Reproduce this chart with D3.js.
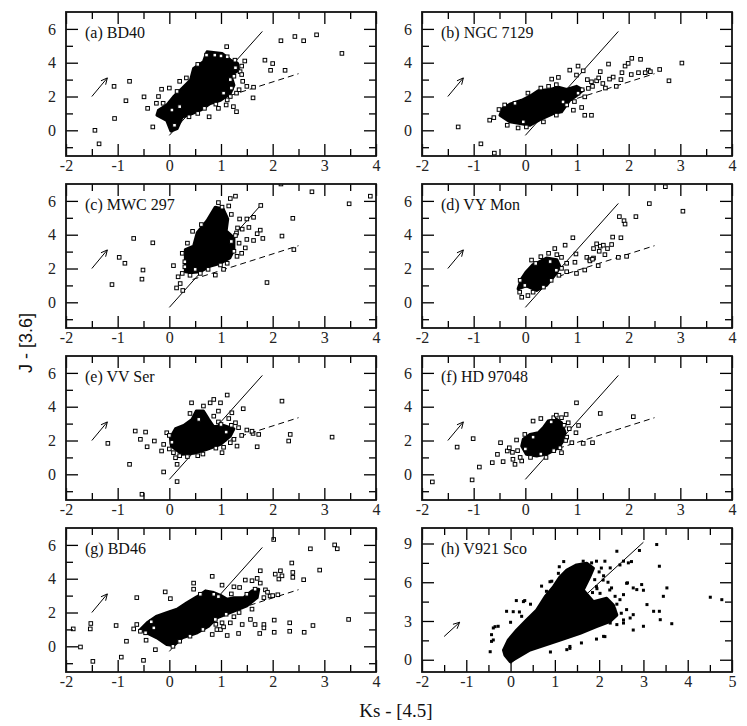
<!DOCTYPE html>
<html>
<head>
<meta charset="utf-8">
<script src="https://cdn.jsdelivr.net/npm/d3@7"></script>
<style>
  body { margin: 0; background: #fff; }
</style>
</head>
<body>
<svg id="chart" width="747" height="726"></svg>
<script>
/*
Panel titles, in reading order */
var panelNames = ['(a) BD40', '(b) NGC 7129', '(c) MWC 297', '(d) VY Mon',
                  '(e) VV Ser', '(f) HD 97048', '(g) BD46', '(h) V921 Sco'];

/*
Outline of the dense (saturated) part of each cloud, [Ks-[4.5], J-[3.6]] */
var coreA = [[-0.24,0.89],[-0.05,0.59],[0.03,-0.04],[0.15,0.1],[0.25,0.79],[0.44,0.99],[0.6,1.19],
             [0.79,1.58],[0.99,1.78],[1.18,2.18],[1.25,2.67],[1.19,3.27],[1.34,3.56],[1.32,3.96],
             [1.18,4.16],[1.02,4.55],[0.73,4.65],[0.66,4.06],[0.47,3.66],[0.41,2.97],[0.25,2.48],
             [0.08,1.98],[-0.05,1.49],[-0.21,1.19]];
var coreB = [[-0.49,0.89],[-0.3,0.5],[0.09,0.3],[0.28,0.63],[0.54,0.99],[0.7,1.09],[0.86,1.78],
             [0.96,1.98],[1.12,2.38],[0.99,2.6],[0.8,2.42],[0.64,2.55],[0.48,2.42],[0.25,2.34],
             [0.09,2.02],[-0.07,1.78],[-0.3,1.54],[-0.44,1.29]];
var coreC = [[0.31,1.81],[0.31,3.12],[0.47,3.32],[0.54,4.12],[0.73,4.83],[0.89,5.63],[1.04,5.53],
             [1.13,4.93],[1.1,4.23],[1.25,3.82],[1.25,3.12],[1.17,2.62],[0.99,2.31],[0.76,2.11],
             [0.6,1.81],[0.44,1.77]];
var coreD = [[-0.14,0.8],[0.02,0.97],[0.22,0.7],[0.41,1.01],[0.57,1.61],[0.67,2.11],[0.61,2.52],
             [0.41,2.62],[0.25,2.37],[0.14,2.21],[0.02,1.81],[-0.07,1.41]];
var coreE = [[0.04,1.67],[0.25,1.18],[0.47,1.24],[0.73,1.48],[0.99,1.77],[1.18,2.26],[1.25,2.69],
             [1.05,2.89],[0.86,2.81],[0.76,3.25],[0.66,3.74],[0.52,3.74],[0.44,3.25],[0.28,2.89],
             [0.12,2.7],[0.02,2.17]];
var coreF = [[-0.07,1.67],[0.02,1.18],[0.22,1.08],[0.44,1.24],[0.64,1.57],[0.73,1.97],[0.77,2.46],
             [0.7,3.05],[0.61,3.25],[0.44,3.15],[0.35,2.76],[0.25,2.46],[0.09,2.36],[-0.04,2.07]];
var coreG = [[-0.56,0.99],[-0.24,0.5],[-0.05,0.1],[0.08,0.04],[0.25,0.5],[0.54,0.8],[0.76,1.19],
             [0.92,1.69],[1.25,2.09],[1.5,2.39],[1.7,2.88],[1.73,3.38],[1.6,3.28],[1.44,2.88],
             [1.25,2.88],[1.12,2.78],[0.99,3.02],[0.86,3.18],[0.7,3.28],[0.54,2.94],[0.34,2.58],
             [0.15,2.19],[-0.05,1.99],[-0.24,1.79],[-0.43,1.39]];
var coreH = [[-0.13,0.37],[-0.01,-0.15],[0.44,0.75],[1.12,1.53],[1.57,2.05],[1.94,2.56],[2.24,2.95],
             [2.4,3.46],[2.32,4.24],[2.17,4.76],[1.87,4.5],[1.64,5.4],[1.79,6.43],[1.87,7.08],
             [1.72,7.47],[1.49,7.34],[1.27,6.95],[1.12,6.43],[0.97,5.66],[0.78,4.88],[0.59,3.85],
             [0.36,3.08],[0.14,2.3],[-0.05,1.53],[-0.16,0.75]];

/*
Individual sources outside the dense cores */
var ptsA = [[-1.44,0],[-1.36,-0.8],[-1.06,0.7],[-1.07,2.6],[-0.77,2.9],[-0.84,1.75],[-0.49,1.98],
            [-0.42,1.3],[-0.32,0.2],[-0.15,2.43],[-0.21,2.0],[-0.25,1.6],[-0.12,1.6],[0.2,2.9],
            [0.0,2.5],[0.77,0.8],[0.95,1.3],[1.11,4.95],[1.27,4.15],[1.46,4.1],[1.37,3.47],
            [1.3,1.1],[1.24,1.4],[1.5,2.6],[1.63,2.55],[1.62,1.92],[1.85,4.15],[2.0,3.95],
            [1.96,3.55],[2.24,3.55],[2.16,5.3],[2.43,5.55],[2.6,5.3],[2.85,5.65],[3.34,4.55],
            [1.18,2.0],[1.3,2.2],[1.18,3.0],[1.25,3.2],[1.35,2.4],[1.12,1.8],[0.72,4.45],
            [0.88,4.45],[1.0,4.4],[1.12,4.35],[1.4,3.8],[1.1,1.5],[0.9,1.55],[1.42,2.9],
            [0.2,1.4],[0.05,1.2],[0.33,3.1],[1.05,2.2],[1.2,2.5],[0.55,1.0],[0.68,1.3],
            [0.38,0.8],[0.15,2.3],[0.55,3.9],[1.28,3.7],[1.4,3.3],[0.1,0.3]];
var ptsB = [[-1.3,0.2],[-0.86,-0.8],[-0.6,-1.35],[-0.69,0.6],[-0.61,0.75],[-0.51,1.23],[-0.35,0.3],
            [-0.14,0.14],[0.02,0.2],[-0.04,0.5],[0.51,3.03],[0.64,3.13],[0.86,3.56],[0.99,3.27],
            [1.02,3.8],[1.12,3.52],[0.93,1.19],[1.09,1.35],[1.15,0.89],[1.28,0.89],[1.45,3.47],
            [1.61,3.92],[1.87,3.41],[1.93,3.8],[1.99,3.96],[2.06,4.26],[2.23,4.2],[2.38,3.56],
            [2.19,3.41],[2.32,3.41],[2.42,3.47],[2.6,3.6],[2.78,2.93],[3.03,3.98],[1.28,2.87],
            [1.38,2.93],[1.5,2.77],[1.63,3.03],[1.76,2.6],[1.22,2.48],[1.15,1.98],[0.73,1.68],
            [1.02,2.2],[1.3,2.6],[1.55,2.5],[1.7,3.15],[1.42,3.1],[0.8,1.5],[1.1,2.4],
            [0.6,2.7],[0.3,2.5],[-0.2,1.6],[1.2,3.0],[1.85,3.0],[2.05,3.3],[0.35,0.5],
            [0.6,0.9],[0.95,1.7],[0.45,2.6],[0.05,2.2],[-0.4,1.5]];
var ptsC = [[-1.11,1.05],[-0.97,2.66],[-0.86,2.31],[-0.69,3.78],[-0.32,3.52],[-0.51,1.91],
            [-0.53,1.37],[0.08,2.17],[0.14,0.85],[0.21,1.11],[0.26,0.7],[0.17,1.51],[0.25,1.71],
            [0.6,1.71],[0.89,1.61],[1.18,6.14],[1.28,6.28],[1.02,5.63],[1.36,4.93],[1.5,4.93],
            [1.63,5.03],[1.77,5.73],[1.41,4.33],[1.54,4.43],[1.76,4.27],[1.7,4.06],[1.5,3.72],
            [1.63,3.66],[1.81,3.78],[1.47,3.22],[2.18,3.92],[2.39,4.97],[2.41,3.12],[1.89,1.17],
            [2.16,7.0],[2.76,6.54],[3.48,5.83],[3.89,6.28],[1.25,3.02],[1.31,2.72],[1.12,2.31],
            [0.99,2.21],[1.32,4.4],[1.35,3.5],[1.2,5.2],[0.45,4.2],[0.35,3.5],[0.3,2.4],
            [0.4,1.6],[0.75,1.95],[1.05,1.95],[1.4,2.9],[1.3,4.1],[0.95,5.9],[1.2,3.6],
            [0.25,2.9],[0.3,2.1],[0.5,1.95],[1.15,5.7],[0.62,4.6],[1.28,3.95]];
var ptsD = [[-0.11,0.6],[-0.07,0.3],[-0.01,1.0],[0.57,3.18],[0.77,3.38],[0.92,3.82],[0.61,2.82],
            [0.7,2.66],[0.8,2.31],[0.7,2.01],[0.8,1.81],[0.96,2.37],[0.98,2.86],[0.99,1.71],
            [1.15,1.91],[1.19,2.66],[1.25,2.52],[1.32,3.18],[1.38,3.46],[1.45,3.32],[1.51,3.38],
            [1.59,3.18],[1.67,3.42],[1.43,3.02],[1.41,2.17],[1.32,2.62],[1.54,2.82],[1.69,3.86],
            [1.85,3.82],[1.8,2.66],[1.96,2.72],[1.82,5.07],[1.91,4.83],[1.93,4.63],[2.14,5.07],
            [2.4,5.84],[2.71,6.84],[3.05,5.39],[0.48,2.41],[0.12,2.5],[0.3,2.7],[0.5,1.3],
            [0.65,1.6],[-0.1,1.3],[0.05,0.4],[0.2,2.3],[0.45,2.9],[1.25,2.45],[1.3,2.55],
            [0.35,0.9],[0.15,0.6],[0.6,1.9]];
var ptsE = [[-1.19,1.83],[-0.77,0.59],[-0.66,2.56],[-0.46,2.5],[-0.56,2.07],[-0.43,1.63],
            [-0.29,1.97],[-0.53,-1.18],[-0.11,0.14],[0.15,-0.43],[-0.15,1.38],[-0.11,1.77],
            [-0.05,2.46],[0.08,1.28],[0.12,0.98],[0.15,0.59],[0.43,4.23],[0.66,4.04],[0.79,4.23],
            [0.86,4.43],[0.95,3.74],[1.12,4.69],[0.99,4.23],[1.21,3.64],[1.43,3.88],[1.28,3.05],
            [1.34,2.76],[1.5,2.62],[1.62,2.42],[1.73,2.36],[1.25,2.07],[1.31,1.67],[1.02,1.28],
            [1.18,1.87],[1.7,1.63],[2.18,4.33],[2.34,2.36],[2.31,1.97],[3.15,2.2],[0.86,3.44],
            [0.57,3.25],[0.0,1.5],[0.2,1.1],[0.35,1.05],[0.95,3.1],[1.1,2.5],[1.2,2.9],
            [1.05,1.6],[0.65,1.2],[0.0,2.3],[1.4,2.3],[0.4,3.6],[1.6,2.55],[1.15,3.3],
            [0.05,1.9],[0.9,1.55],[0.55,1.1],[1.0,2.95]];
var ptsF = [[-1.8,-0.45],[-1.32,1.61],[-1.01,2.11],[-1.03,-0.33],[-0.89,0.43],[-0.64,0.69],
            [-0.54,1.18],[-0.48,1.87],[-0.43,0.75],[-0.35,1.38],[-0.31,1.57],[-0.24,0.89],
            [-0.2,0.59],[-0.17,2.03],[-0.07,0.79],[-0.01,2.36],[0.15,3.15],[0.7,3.35],[0.79,3.54],
            [0.99,4.23],[0.98,2.46],[1.03,2.89],[0.83,3.05],[1.45,3.6],[0.7,1.28],[0.9,1.87],
            [1.12,1.83],[1.3,1.87],[2.09,3.41],[0.67,1.57],[0.55,3.35],[0.5,3.1],[0.8,2.2],
            [0.85,2.7],[-0.15,1.4],[-0.1,1.0],[0.1,1.0],[0.4,1.0],[0.6,3.5],[0.3,3.3],
            [-0.25,1.3],[0.75,2.9],[0.78,2.0],[0.3,1.2],[0.0,1.5],[0.15,2.2],[0.55,1.4]];
var ptsG = [[-1.86,1.03],[-1.72,-0.04],[-1.52,1.35],[-1.53,1.03],[-1.48,-0.89],[-1.03,1.23],
            [-0.93,-0.64],[-0.83,0.3],[-0.63,2.88],[-0.69,1.03],[-0.63,1.29],[-0.5,-0.83],
            [-0.45,0.36],[-0.27,-0.2],[-0.08,3.22],[0.02,2.82],[0.07,0.0],[0.47,3.74],[0.83,4.14],
            [1.02,3.62],[1.25,3.52],[1.36,3.48],[1.47,3.92],[1.6,3.88],[1.7,4.02],[1.76,4.47],
            [1.76,3.74],[1.86,3.34],[1.83,2.88],[1.95,2.98],[2.02,6.32],[2.05,4.27],[2.12,3.98],
            [2.15,4.47],[2.18,4.17],[2.39,4.37],[2.39,4.08],[2.37,4.93],[2.6,3.94],[2.73,5.77],
            [2.91,4.51],[3.2,6.0],[3.25,5.77],[3.47,1.59],[2.78,1.23],[2.61,0.83],[2.33,0.89],
            [2.33,1.39],[2.03,0.83],[2.03,1.55],[1.83,1.29],[1.83,1.09],[1.75,0.76],[1.66,1.29],
            [1.57,1.59],[1.41,1.29],[1.34,0.76],[1.18,1.39],[1.25,1.75],[1.12,0.64],[1.02,1.39],
            [0.89,1.59],[0.83,0.7],[0.92,0.99],[0.99,0.99],[0.47,3.38],[0.6,3.08],[0.86,3.08],
            [0.95,2.94],[-0.3,1.09],[-0.46,0.8],[-0.56,0.89],[1.5,3.08],[1.66,3.38],[2.0,3.0],
            [2.1,3.05],[1.9,3.2],[1.1,1.9],[1.35,2.0],[1.6,2.2],[0.9,1.3],[1.05,1.15],[-0.35,1.45],
            [0.4,0.6],[0.2,0.3],[0.65,1.0],[1.2,3.1]];
var ptsH = [[-0.43,1.94],[-0.43,1.42],[-0.39,2.46],[-0.28,2.59],[-0.09,3.75],[0.13,4.58],
            [0.32,4.58],[0.25,3.36],[0.93,6.08],[0.81,5.3],[1.49,7.24],[1.64,7.63],[1.83,7.5],
            [1.94,7.63],[2.13,7.63],[2.25,7.11],[2.4,8.4],[2.55,7.63],[2.66,7.5],[2.91,8.46],
            [3.3,8.92],[3.36,7.24],[2.64,5.95],[2.77,5.56],[2.85,5.43],[2.96,5.82],[3.0,5.38],
            [3.08,4.27],[3.23,3.75],[3.36,3.75],[3.45,4.91],[3.53,5.56],[3.38,3.1],[3.64,2.79],
            [3.0,2.59],[2.62,3.88],[2.77,3.49],[2.55,2.84],[2.4,2.72],[2.1,1.81],[1.94,1.6],
            [1.27,0.78],[1.34,1.03],[4.51,4.84],[4.77,4.65],[2.55,5.04],[2.36,4.91],[2.28,5.56],
            [2.47,4.65],[2.32,3.36],[2.25,2.84],[2.7,3.23],[1.9,6.2],[2.0,6.8],[2.1,6.5],
            [1.95,5.5],[2.2,6.0],[2.05,7.1],[1.85,5.2],[2.4,4.3],[2.5,3.6],[2.35,3.9],
            [1.2,7.6],[1.1,7.2],[0.7,5.7],[0.45,4.3],[0.2,3.7],[0.0,2.9],[1.6,1.3],[0.9,0.6],
            [0.89,6.04],[1.08,6.69],[0.29,4.5],[0.06,3.72],[-0.35,2.56],[-0.39,1.53],[-0.46,0.62],
            [1.34,0.88],[2.13,1.79],[2.62,5.92],[2.73,7.6],[2.47,7.34],[2.55,3.08],[2.77,2.3],
            [1.94,5.66],[2.09,6.17],[2.02,5.14],[2.24,5.4]];

/*
Reddening vector, model lines */
var reddening  = [[-1.5, 2.0], [-1.2, 3.1]];
var reddeningH = [[-1.5, 1.8], [-1.15, 2.9]];
var solidLine  = [[0, -0.3], [1.8, 5.85]];
var solidLineH = [[0, -0.3], [3.0, 9.1]];
var dashedLine = [[0.45, 1.35], [2.5, 3.35]];

/*
Tick values */
var xTicks  = [-2, -1, 0, 1, 2, 3, 4];
var xMinor  = [-1.5, -0.5, 0.5, 1.5, 2.5, 3.5];
var xTicksH = [-2, -1, 0, 1, 2, 3, 4, 5];
var xMinorH = [-1.5, -0.5, 0.5, 1.5, 2.5, 3.5, 4.5];
var yTicks  = [0, 2, 4, 6];
var yMinor  = [-1, 1, 3, 5];
var yTicksH = [0, 3, 6, 9];
var yMinorH = [1.5, 4.5, 7.5];

var cores = [coreA, coreB, coreC, coreD, coreE, coreF, coreG, coreH];
var points = [ptsA, ptsB, ptsC, ptsD, ptsE, ptsF, ptsG, ptsH];

var colLeft = [66, 422];
var rowTop = [12, 184, 356, 528];
var panelW = 310, panelH = 144;
var serif = "'Liberation Serif', 'Times New Roman', serif";

var svg = d3.select("#chart");

function fmt(d) { return String(d); }

/*
Draws one side of tick marks, with labels when pad is given */
function tickAxis(g, axis, scale, vals, size, pad) {
  var a = axis(scale).tickValues(vals).tickSizeInner(-size).tickSizeOuter(0)
            .tickFormat(pad ? fmt : "").tickPadding(pad || 0);
  g.call(a);
  g.select(".domain").remove();
  g.selectAll(".tick line").attr("stroke", "#000").attr("stroke-width", 1.3);
  g.selectAll(".tick text").attr("font-family", serif).attr("font-size", 16).attr("fill", "#222");
}

function draw_panel(i) {
  var isH = (i == 7);
  var x0 = colLeft[i % 2], y0 = rowTop[Math.floor(i / 2)];
  var x = d3.scaleLinear().domain(isH ? [-2, 5] : [-2, 4]).range([0, panelW]);
  var y = d3.scaleLinear().domain(isH ? [-0.95, 10.2] : [-1.52, 7.0]).range([panelH, 0]);
  var g = svg.append("g").attr("transform", "translate(" + x0 + "," + y0 + ")");

  var clip = "clip" + i;
  g.append("clipPath").attr("id", clip).append("rect").attr("width", panelW).attr("height", panelH);
  var body = g.append("g").attr("clip-path", "url(#" + clip + ")");

  var line = d3.line().x(function(d) { return x(d[0]); }).y(function(d) { return y(d[1]); });

  // model lines
  body.append("path").attr("d", line(isH ? solidLineH : solidLine))
      .attr("stroke", "#000").attr("stroke-width", 1).attr("fill", "none");
  if (!isH) {
    body.append("path").attr("d", line(dashedLine))
        .attr("stroke", "#000").attr("stroke-width", 1).attr("stroke-dasharray", "6,4").attr("fill", "none");
  }

  // dense core
  body.append("path").datum(cores[i])
      .attr("d", d3.line().x(function(d) { return x(d[0]); }).y(function(d) { return y(d[1]); }).curve(d3.curveLinearClosed))
      .attr("fill", "#000").attr("stroke", "#000").attr("stroke-width", 3).attr("stroke-linejoin", "round");

  // sources
  if (isH) {
    body.selectAll("rect.pt").data(points[i]).enter().append("rect").attr("class", "pt")
        .attr("x", function(d) { return x(d[0]) - 1.5; })
        .attr("y", function(d) { return y(d[1]) - 1.5; })
        .attr("width", 3).attr("height", 3).attr("fill", "#000");
  } else {
    body.selectAll("rect.pt").data(points[i]).enter().append("rect").attr("class", "pt")
        .attr("x", function(d) { return x(d[0]) - 1.8; })
        .attr("y", function(d) { return y(d[1]) - 1.8; })
        .attr("width", 3.6).attr("height", 3.6)
        .attr("fill", "#fff").attr("stroke", "#000").attr("stroke-width", 1);
  }

  // reddening vector
  var r = isH ? reddeningH : reddening;
  var ax = x(r[0][0]), ay = y(r[0][1]), bx = x(r[1][0]), by = y(r[1][1]);
  var ang = Math.atan2(by - ay, bx - ax), hl = 7;
  body.append("path")
      .attr("d", "M" + ax + "," + ay + "L" + bx + "," + by +
                 "M" + (bx - hl * Math.cos(ang - 0.45)) + "," + (by - hl * Math.sin(ang - 0.45)) +
                 "L" + bx + "," + by +
                 "L" + (bx - hl * Math.cos(ang + 0.45)) + "," + (by - hl * Math.sin(ang + 0.45)))
      .attr("stroke", "#000").attr("stroke-width", 1).attr("fill", "none");

  // ticks on all four sides
  var xt = isH ? xTicksH : xTicks, xm = isH ? xMinorH : xMinor;
  var yt = isH ? yTicksH : yTicks, ym = isH ? yMinorH : yMinor;
  tickAxis(g.append("g").attr("transform", "translate(0," + panelH + ")"), d3.axisBottom, x, xt, 12, 4);
  tickAxis(g.append("g").attr("transform", "translate(0," + panelH + ")"), d3.axisBottom, x, xm, 7, 0);
  tickAxis(g.append("g"), d3.axisTop, x, xt, 12, 0);
  tickAxis(g.append("g"), d3.axisTop, x, xm, 7, 0);
  tickAxis(g.append("g"), d3.axisLeft, y, yt, 12, 10);
  tickAxis(g.append("g"), d3.axisLeft, y, ym, 7, 0);
  tickAxis(g.append("g").attr("transform", "translate(" + panelW + ",0)"), d3.axisRight, y, yt, 12, 0);
  tickAxis(g.append("g").attr("transform", "translate(" + panelW + ",0)"), d3.axisRight, y, ym, 7, 0);

  // frame
  g.append("rect").attr("width", panelW).attr("height", panelH)
      .attr("fill", "none").attr("stroke", "#111").attr("stroke-width", 1.8);

  // panel title
  g.append("text").attr("x", 19).attr("y", 26).text(panelNames[i])
      .attr("font-family", serif).attr("font-size", 16).attr("fill", "#111");
}

for (var i = 0; i < panelNames.length; i++) draw_panel(i);

// axis titles
svg.append("text").attr("transform", "translate(32,343) rotate(-90)")
   .attr("text-anchor", "middle").attr("font-family", "'Liberation Sans', Arial, sans-serif")
   .attr("font-size", 18).attr("fill", "#111").text("J - [3.6]");
svg.append("text").attr("x", 396).attr("y", 717).attr("text-anchor", "middle")
   .attr("font-family", serif).attr("font-size", 19).attr("fill", "#111").text("Ks - [4.5]");
</script>
</body>
</html>
